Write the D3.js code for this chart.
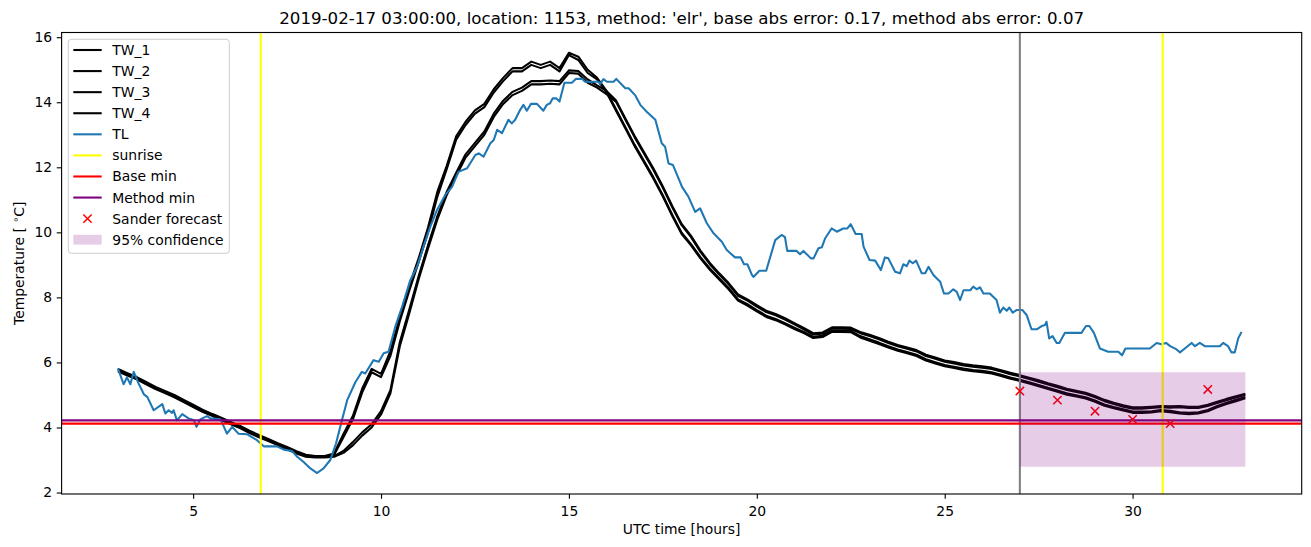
<!DOCTYPE html>
<html><head><meta charset="utf-8">
<script src="https://cdn.jsdelivr.net/npm/d3@7/dist/d3.min.js"></script>
<style>body{margin:0;background:#fff} svg{display:block} text{font-family:"DejaVu Sans",sans-serif;fill:#000}</style>
</head><body><svg id="c" width="1311" height="547"></svg>
<script>
// ---- data ----
const twStart = 3, twStep = 0.25;
const tw1 = [5.75,5.62,5.5,5.35,5.2,5.08,4.95,4.8,4.65,4.5,4.38,4.25,4.12,4.0,3.85,3.72,3.6,3.48,3.35,3.22,3.12,3.1,3.1,
3.15,3.7,4.25,5.08,5.7,5.55,6.2,7.27,8.2,9.08,
10.0,11.1,11.95,12.85,13.3,13.65,13.85,14.3,14.65,14.95,
14.95,15.15,15.05,15.15,14.95,15.45,15.3,14.9,14.7,14.3,
13.75,13.2,12.65,12.15,11.65,11.1,10.5,9.95,9.6,9.2,
8.85,8.55,8.25,7.9,7.75,7.57,7.4,7.3,7.17,7.03,
6.9,6.75,6.78,6.94,6.94,6.93,6.77,6.67,6.57,6.46,
6.36,6.28,6.2,6.06,5.97,5.88,5.83,5.77,5.73,5.7,
5.66,5.58,5.5,5.43,5.35,5.27,5.18,5.1,5.01,4.95,
4.89,4.79,4.67,4.59,4.52,4.45,4.45,4.46,4.5,4.47,
4.43,4.41,4.43,4.5,4.62,4.72,4.81,4.9];
const tw2 = [5.8,5.67,5.55,5.4,5.25,5.12,5.0,4.85,4.7,4.55,4.42,4.3,4.17,4.05,3.9,3.77,3.65,3.52,3.4,3.27,3.16,3.12,3.12,
3.2,3.8,4.35,5.2,5.8,5.65,6.35,7.4,8.35,9.2,
10.15,11.25,12.05,12.95,13.4,13.75,13.95,14.4,14.75,15.05,
15.05,15.25,15.15,15.25,15.05,15.52,15.4,15.0,14.75,14.35,
13.79,13.24,12.69,12.19,11.69,11.14,10.54,9.99,9.64,9.24,
8.89,8.59,8.29,7.94,7.79,7.61,7.44,7.34,7.21,7.07,
6.94,6.79,6.82,6.98,6.98,6.97,6.81,6.71,6.61,6.5,
6.4,6.32,6.24,6.1,6.01,5.92,5.87,5.81,5.77,5.74,
5.7,5.62,5.54,5.47,5.39,5.31,5.22,5.14,5.05,4.99,
4.93,4.83,4.71,4.63,4.56,4.49,4.49,4.5,4.54,4.51,
4.47,4.45,4.47,4.54,4.66,4.76,4.85,4.94];
const tw3 = [5.72,5.6,5.48,5.33,5.18,5.06,4.93,4.78,4.63,4.48,4.36,4.23,4.1,3.98,3.83,3.7,3.58,3.46,3.33,3.2,3.1,3.08,3.08,
3.1,3.22,3.45,3.75,4.0,4.4,5.05,6.5,7.5,8.55,
9.5,10.4,11.15,11.73,12.3,12.65,13.0,13.55,13.95,14.22,
14.35,14.55,14.55,14.57,14.55,14.9,14.88,14.6,14.45,14.25,
14.02,13.47,12.92,12.42,11.92,11.37,10.77,10.22,9.85,9.4,
9.02,8.7,8.4,8.05,7.9,7.72,7.55,7.45,7.32,7.17,
7.02,6.86,6.88,7.04,7.04,7.03,6.9,6.81,6.71,6.6,
6.5,6.42,6.34,6.2,6.11,6.02,5.97,5.91,5.87,5.84,
5.8,5.72,5.64,5.57,5.49,5.41,5.32,5.24,5.15,5.09,
5.03,4.93,4.81,4.72,4.64,4.58,4.58,4.6,4.62,4.61,
4.62,4.6,4.6,4.66,4.75,4.84,4.92,5.0];
const tw4 = [5.77,5.65,5.52,5.38,5.22,5.1,4.97,4.82,4.67,4.52,4.4,4.27,4.14,4.02,3.87,3.74,3.62,3.5,3.37,3.24,3.14,3.1,3.1,
3.12,3.28,3.55,3.85,4.1,4.5,5.15,6.62,7.62,8.65,
9.6,10.5,11.25,11.83,12.4,12.75,13.1,13.65,14.05,14.32,
14.45,14.65,14.65,14.67,14.65,14.98,14.96,14.7,14.52,14.35,
14.06,13.51,12.96,12.46,11.96,11.41,10.81,10.26,9.89,9.44,
9.06,8.74,8.44,8.09,7.94,7.76,7.59,7.49,7.36,7.21,
7.06,6.9,6.92,7.08,7.08,7.07,6.94,6.85,6.75,6.64,
6.54,6.46,6.38,6.24,6.15,6.06,6.01,5.95,5.91,5.88,
5.84,5.76,5.68,5.61,5.53,5.45,5.36,5.28,5.19,5.13,
5.07,4.97,4.85,4.76,4.68,4.62,4.62,4.64,4.66,4.65,
4.66,4.64,4.64,4.7,4.79,4.88,4.96,5.04];

const tlHours = [3.0,3.15,3.24,3.33,3.42,3.55,3.69,3.78,3.95,4.18,4.26,4.35,4.44,4.48,4.57,4.71,4.88,5.02,5.09,5.19,5.37,5.46,5.73,5.9,6.04,6.21,6.44,6.7,6.88,7.23,7.41,7.63,7.77,7.94,8.12,8.3,8.47,8.65,8.8,8.96,9.1,9.32,9.49,9.58,9.8,9.94,10.07,10.2,10.38,10.56,10.78,10.96,11.13,11.31,11.49,11.71,11.89,12.06,12.29,12.51,12.6,12.73,12.91,13.0,13.09,13.22,13.39,13.48,13.57,13.7,13.79,13.88,13.99,14.15,14.32,14.41,14.5,14.57,14.66,14.75,14.88,15.08,15.19,15.35,15.43,15.79,15.83,15.92,16.01,16.19,16.26,16.5,16.59,16.76,16.9,17.07,17.3,17.47,17.56,17.65,17.77,18.01,18.18,18.23,18.36,18.49,18.67,18.85,19.07,19.2,19.42,19.57,19.66,19.75,19.87,19.91,20.07,20.25,20.49,20.66,20.75,20.81,21.06,21.15,21.24,21.44,21.51,21.64,21.73,21.82,21.99,22.13,22.3,22.41,22.5,22.63,22.79,22.84,23.0,23.15,23.3,23.41,23.5,23.68,23.81,23.9,23.99,24.06,24.15,24.24,24.39,24.48,24.57,24.7,24.88,24.98,25.1,25.23,25.32,25.41,25.5,25.68,25.76,25.85,25.94,26.03,26.2,26.38,26.47,26.56,26.65,26.72,26.81,26.91,27.07,27.18,27.31,27.45,27.58,27.67,27.71,27.78,27.87,27.98,28.05,28.2,28.64,28.76,28.85,28.97,29.13,29.35,29.62,29.72,29.81,30.46,30.64,30.77,30.89,31.0,31.17,31.26,31.39,31.57,31.66,31.79,31.92,32.32,32.41,32.54,32.63,32.72,32.81,32.9];
const tlValues = [5.82,5.33,5.54,5.33,5.71,5.35,5.02,4.94,4.53,4.72,4.43,4.53,4.45,4.53,4.22,4.41,4.28,4.22,4.02,4.25,4.35,4.28,4.25,3.81,4.02,3.81,3.79,3.61,3.42,3.42,3.32,3.28,3.1,2.94,2.74,2.6,2.74,3.0,3.5,4.22,4.84,5.4,5.71,5.66,6.07,6.02,6.28,6.33,7.1,7.71,8.53,8.94,9.56,10.17,10.69,11.15,11.4,11.86,11.97,12.38,12.43,12.33,12.74,12.84,13.15,13.05,13.46,13.35,13.46,13.76,13.92,13.74,13.95,13.95,13.74,13.92,13.97,14.12,14.12,14.02,14.6,14.6,14.72,14.72,14.63,14.63,14.56,14.71,14.63,14.63,14.72,14.43,14.43,14.22,13.92,13.71,13.46,12.74,12.63,12.12,12.07,11.4,11.1,10.97,10.63,10.74,10.28,9.97,9.71,9.46,9.23,9.23,9.02,9.02,8.69,8.63,8.82,8.82,9.76,9.92,9.85,9.43,9.43,9.33,9.43,9.2,9.2,9.51,9.54,9.82,10.12,10.02,10.12,10.12,10.25,9.95,9.95,9.56,9.15,9.13,8.84,9.23,9.2,8.79,8.74,9.02,8.96,9.13,9.05,9.13,8.74,8.74,8.94,8.69,8.48,8.12,8.12,8.25,8.17,7.92,8.22,8.22,8.33,8.25,8.31,8.12,8.12,7.92,7.53,7.69,7.59,7.69,7.53,7.61,7.61,7.46,7.02,7.02,7.12,7.15,7.25,6.74,6.81,6.6,6.6,6.91,6.91,7.12,7.12,6.91,6.43,6.33,6.33,6.22,6.43,6.43,6.6,6.56,6.6,6.5,6.4,6.31,6.43,6.6,6.5,6.6,6.5,6.5,6.6,6.5,6.31,6.31,6.74,6.94];

const sunriseHours = [6.8, 30.8];
const forecastStartHours = [27];
const baseMin = 4.12;
const methodMin = 4.22;
const sanderHours = [27, 28, 29, 30, 31, 32];
const sanderValues = [5.12, 4.84, 4.50, 4.25, 4.12, 5.17];
const confHours = [27, 33];
const confLow = [2.79, 2.79];
const confHigh = [5.70, 5.70];
const xTicks = [5, 10, 15, 20, 25, 30];
const yTicks = [2, 4, 6, 8, 10, 12, 14, 16];
const legendLabels = ["TW_1","TW_2","TW_3","TW_4","TL","sunrise","Base min","Method min","Sander forecast","95% confidence"];
const titleText = "2019-02-17 03:00:00, location: 1153, method: 'elr', base abs error: 0.17, method abs error: 0.07";

// ---- chart ----
const svg = d3.select("#c");
const L = 61.6, R = 1301.7, T = 32.5, B = 494;
const x = d3.scaleLinear().domain([1.5, 34.5]).range([L, R]);
const y = d3.scaleLinear().domain([1.955, 16.145]).range([B, T]);
const FS = 13.9, LW = 2.08, SW = 1.11;

svg.append("defs").append("clipPath").attr("id","clip")
  .append("rect").attr("x",L).attr("y",T).attr("width",R-L).attr("height",B-T);
const g = svg.append("g").attr("clip-path","url(#clip)");

const line = d3.line().x(d=>x(d[0])).y(d=>y(d[1]));
[tw1,tw2,tw3,tw4].forEach(arr=>{
  const pts = arr.map((v,i)=>[twStart + i*twStep, v]);
  g.append("path").attr("d", line(pts)).attr("fill","none").attr("stroke","#000").attr("stroke-width",LW).attr("stroke-linejoin","round");
});
g.append("path").attr("d", line(tlHours.map((h,i)=>[h, tlValues[i]])))
  .attr("fill","none").attr("stroke","#1f77b4").attr("stroke-width",LW).attr("stroke-linejoin","round");

sunriseHours.forEach(h=>{
  g.append("line").attr("x1",x(h)).attr("x2",x(h)).attr("y1",T).attr("y2",B).attr("stroke","#ffff00").attr("stroke-width",LW);
});
forecastStartHours.forEach(h=>{
  g.append("line").attr("x1",x(h)).attr("x2",x(h)).attr("y1",T).attr("y2",B).attr("stroke","#808080").attr("stroke-width",LW);
});
g.append("line").attr("x1",L).attr("x2",R).attr("y1",y(baseMin)).attr("y2",y(baseMin)).attr("stroke","#ff0000").attr("stroke-width",LW);
g.append("line").attr("x1",L).attr("x2",R).attr("y1",y(methodMin)).attr("y2",y(methodMin)).attr("stroke","#800080").attr("stroke-width",LW);

const xm = 4.17;
function cross(sel, cx, cy){
  sel.append("path").attr("d",`M${cx-xm},${cy-xm}L${cx+xm},${cy+xm}M${cx-xm},${cy+xm}L${cx+xm},${cy-xm}`)
    .attr("stroke","#ff0000").attr("stroke-width",1.5).attr("fill","none");
}
sanderHours.forEach((h,i)=>cross(g, x(h), y(sanderValues[i])));

const area = d3.area().x(d=>x(d[0])).y0(d=>y(d[1])).y1(d=>y(d[2]));
g.append("path").attr("d", area(confHours.map((h,i)=>[h, confLow[i], confHigh[i]])))
  .attr("fill","#800080").attr("fill-opacity",0.2).attr("stroke","none");

// axes
const xAxis = d3.axisBottom(x).tickValues(xTicks).tickSize(4.86).tickPadding(7.6).tickSizeOuter(0);
const yAxis = d3.axisLeft(y).tickValues(yTicks).tickSize(4.86).tickPadding(4.6).tickSizeOuter(0);
const gx = svg.append("g").attr("transform",`translate(0,${B})`).call(xAxis);
const gy = svg.append("g").attr("transform",`translate(${L},0)`).call(yAxis);
[gx,gy].forEach(a=>{
  a.select(".domain").remove();
  a.selectAll(".tick line").attr("stroke","#000").attr("stroke-width",SW);
  a.selectAll(".tick text").attr("font-size",FS).attr("font-family","DejaVu Sans").attr("fill","#000");
});
svg.append("rect").attr("x",L).attr("y",T).attr("width",R-L).attr("height",B-T)
  .attr("fill","none").attr("stroke","#000").attr("stroke-width",SW);

// labels
svg.append("text").attr("x",(L+R)/2).attr("y",24).attr("text-anchor","middle").attr("font-size",16.67).text(titleText);
svg.append("text").attr("x",(L+R)/2).attr("y",534).attr("text-anchor","middle").attr("font-size",FS).text("UTC time [hours]");
const yl = svg.append("text").attr("transform",`translate(23.5,${(T+B)/2}) rotate(-90)`).attr("text-anchor","middle").attr("font-size",FS);
yl.append("tspan").text("Temperature [ ");
yl.append("tspan").attr("font-size",FS*0.7).attr("dy",-5).text("∘");
yl.append("tspan").attr("dy",5).text("C]");

// legend
const lg = svg.append("g");
lg.append("rect").attr("x",68.3).attr("y",39.3).attr("width",161).attr("height",214).attr("rx",3)
  .attr("fill","#fff").attr("fill-opacity",0.8).attr("stroke","#cccccc").attr("stroke-width",1);
const lx1 = 73.3, lx2 = 101.7, tx = 112.3;
legendLabels.forEach((lab,i)=>{
  const yy = 50 + i*21.08;
  if (i < 8) {
    const col = ["#000","#000","#000","#000","#1f77b4","#ffff00","#ff0000","#800080"][i];
    lg.append("line").attr("x1",lx1).attr("x2",lx2).attr("y1",yy).attr("y2",yy).attr("stroke",col).attr("stroke-width",LW);
  } else if (i === 8) {
    cross(lg, (lx1+lx2)/2, yy);
  } else {
    lg.append("rect").attr("x",lx1).attr("y",yy-4.9).attr("width",lx2-lx1).attr("height",9.8).attr("fill","#800080").attr("fill-opacity",0.2);
  }
  lg.append("text").attr("x",tx).attr("y",yy).attr("dy","0.36em").attr("font-size",FS).text(lab);
});
</script></body></html>
